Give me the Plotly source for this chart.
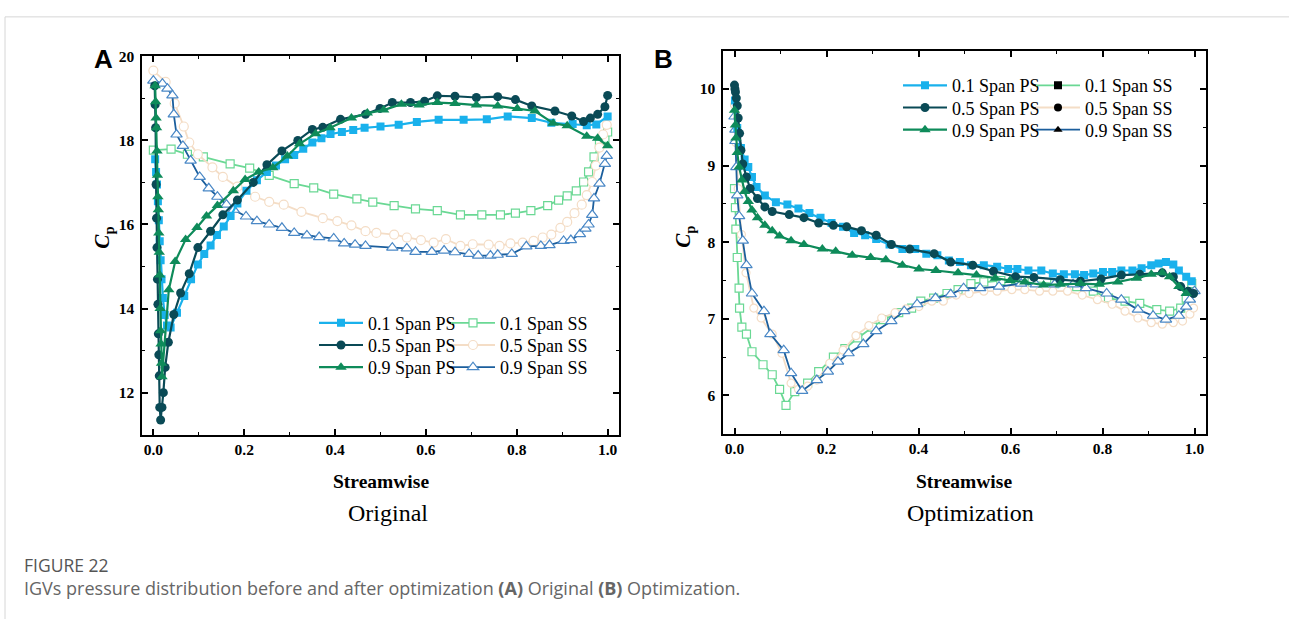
import plotly.graph_objects as go

W, H = 1289, 619

# ---------------- Panel A (Original) ----------------
a_ps01_x = [0.004,0.006,0.008,0.010,0.012,0.014,0.016,0.018,0.021,0.025,0.030,0.038,0.052,0.068,0.083,0.098,0.112,0.126,0.140,0.155,0.170,0.185,0.205,0.228,0.250,0.270,0.290,0.310,0.330,0.350,0.370,0.390,0.415,0.440,0.465,0.500,0.540,0.580,0.628,0.683,0.734,0.780,0.833,0.876,0.923,0.954,0.975,1.0]
a_ps01_y = [17.55,17.25,16.95,16.55,16.1,15.6,15.15,14.7,14.25,13.85,13.6,13.55,13.9,14.3,14.7,15.05,15.3,15.5,15.75,15.95,16.2,16.5,16.8,17.05,17.25,17.4,17.55,17.65,17.8,17.95,18.05,18.15,18.2,18.25,18.3,18.33,18.37,18.44,18.49,18.49,18.5,18.57,18.53,18.42,18.39,18.36,18.38,18.57]

a_ps05_x = [0.003,0.004,0.005,0.006,0.007,0.008,0.009,0.010,0.011,0.012,0.013,0.014,0.016,0.019,0.022,0.026,0.033,0.045,0.060,0.079,0.098,0.126,0.153,0.185,0.220,0.250,0.283,0.318,0.350,0.373,0.412,0.467,0.499,0.526,0.566,0.597,0.625,0.664,0.711,0.758,0.797,0.833,0.884,0.921,0.947,0.962,0.978,0.994,1.0]
a_ps05_y = [19.3,18.85,18.3,16.95,16.15,15.45,14.7,14.1,13.4,12.9,12.4,11.65,11.35,11.65,12.0,12.6,13.2,13.86,14.37,14.83,15.45,15.84,16.23,16.58,17.0,17.42,17.75,18.0,18.26,18.31,18.5,18.62,18.76,18.9,18.9,18.93,19.06,19.05,19.02,19.04,18.97,18.82,18.7,18.58,18.45,18.53,18.62,18.8,19.07]

a_ps09_x = [0.004,0.005,0.006,0.007,0.008,0.009,0.010,0.011,0.012,0.013,0.014,0.015,0.016,0.017,0.018,0.019,0.034,0.048,0.071,0.096,0.117,0.141,0.176,0.202,0.232,0.263,0.295,0.322,0.357,0.389,0.436,0.471,0.507,0.546,0.585,0.625,0.664,0.711,0.758,0.801,0.840,0.880,0.911,0.954,0.978,1.0]
a_ps09_y = [19.3,18.92,18.53,18.3,17.75,17.17,16.66,16.35,15.8,15.34,14.8,14.0,13.47,13.16,12.7,12.38,14.45,15.12,15.64,15.93,16.2,16.45,16.8,17.07,17.25,17.35,17.63,17.92,18.16,18.3,18.53,18.65,18.72,18.86,18.84,18.9,18.88,18.84,18.82,18.76,18.7,18.41,18.35,18.1,18.05,17.87]

a_ss01_x = [0.0,0.039,0.075,0.110,0.169,0.212,0.255,0.310,0.353,0.397,0.448,0.483,0.530,0.577,0.625,0.676,0.723,0.764,0.797,0.831,0.868,0.892,0.911,0.931,0.947,0.958,0.970,0.982,0.994,1.0]
a_ss01_y = [17.77,17.79,17.67,17.61,17.44,17.34,17.17,16.97,16.87,16.72,16.61,16.53,16.45,16.37,16.33,16.23,16.23,16.23,16.27,16.33,16.45,16.58,16.68,16.8,17.01,17.25,17.61,17.91,18.05,18.2]

a_ss05_x = [0.0,0.027,0.047,0.067,0.079,0.098,0.130,0.153,0.185,0.224,0.255,0.287,0.326,0.373,0.405,0.436,0.467,0.491,0.530,0.558,0.589,0.617,0.644,0.676,0.703,0.738,0.762,0.786,0.813,0.837,0.857,0.876,0.896,0.911,0.927,0.943,0.954,0.966,0.974,0.982,0.990,0.998]
a_ss05_y = [19.66,19.39,18.88,18.33,17.95,17.67,17.36,17.13,16.9,16.66,16.54,16.47,16.3,16.15,16.08,15.98,15.84,15.8,15.76,15.69,15.63,15.57,15.65,15.49,15.53,15.52,15.49,15.55,15.57,15.61,15.69,15.76,15.92,16.06,16.27,16.47,16.7,17.01,17.4,17.83,18.14,18.37]

a_ss09_x = [0.0,0.020,0.031,0.042,0.045,0.051,0.065,0.082,0.102,0.122,0.141,0.161,0.177,0.204,0.228,0.255,0.283,0.310,0.338,0.365,0.397,0.420,0.444,0.467,0.526,0.558,0.577,0.613,0.640,0.664,0.695,0.715,0.742,0.758,0.789,0.821,0.853,0.872,0.903,0.919,0.939,0.951,0.958,0.966,0.970,0.982,0.994,0.998]
a_ss09_y = [19.42,19.35,19.23,19.07,18.62,18.14,17.87,17.52,17.13,16.86,16.66,16.47,16.35,16.19,16.08,16.0,15.92,15.8,15.74,15.7,15.67,15.55,15.52,15.49,15.45,15.43,15.35,15.35,15.38,15.34,15.3,15.26,15.26,15.28,15.3,15.48,15.49,15.51,15.61,15.63,15.77,15.9,16.0,16.23,16.62,16.97,17.44,17.63]

# ---------------- Panel B (Optimization) ----------------
b_ps01_x = [0.001,0.006,0.014,0.022,0.030,0.038,0.048,0.066,0.090,0.115,0.139,0.163,0.187,0.211,0.236,0.260,0.284,0.308,0.337,0.365,0.393,0.417,0.441,0.466,0.490,0.514,0.542,0.571,0.595,0.615,0.639,0.667,0.692,0.716,0.740,0.760,0.780,0.801,0.821,0.841,0.865,0.885,0.906,0.922,0.938,0.954,0.966,0.982,0.994]
b_ps01_y = [9.85,9.49,9.23,9.08,8.98,8.85,8.72,8.61,8.52,8.49,8.44,8.38,8.32,8.25,8.2,8.12,8.09,8.04,7.97,7.91,7.91,7.85,7.83,7.76,7.74,7.7,7.7,7.68,7.65,7.65,7.63,7.63,7.59,7.58,7.58,7.57,7.59,7.61,7.61,7.63,7.63,7.66,7.7,7.72,7.74,7.71,7.63,7.55,7.49]

b_ps05_x = [0.0,0.001,0.002,0.004,0.006,0.008,0.011,0.014,0.018,0.026,0.034,0.050,0.066,0.082,0.119,0.151,0.183,0.215,0.244,0.276,0.308,0.341,0.381,0.434,0.470,0.518,0.563,0.611,0.651,0.708,0.752,0.797,0.841,0.881,0.930,0.954,0.970,0.986,0.998]
b_ps05_y = [10.05,10.0,9.96,9.88,9.78,9.62,9.42,9.2,9.02,8.85,8.7,8.57,8.46,8.4,8.36,8.32,8.25,8.22,8.2,8.15,8.09,7.97,7.91,7.85,7.74,7.7,7.62,7.55,7.54,7.51,7.49,7.52,7.57,7.58,7.6,7.55,7.42,7.36,7.33]

b_ps09_x = [0.0,0.002,0.003,0.006,0.010,0.016,0.022,0.030,0.038,0.050,0.066,0.082,0.098,0.123,0.151,0.191,0.220,0.256,0.296,0.329,0.365,0.401,0.438,0.486,0.526,0.567,0.599,0.631,0.672,0.708,0.752,0.793,0.833,0.874,0.906,0.930,0.946,0.966,0.982]
b_ps09_y = [9.72,9.53,9.36,9.17,8.98,8.81,8.66,8.53,8.42,8.32,8.22,8.15,8.08,8.02,7.97,7.91,7.88,7.83,7.8,7.77,7.7,7.65,7.63,7.6,7.57,7.53,7.5,7.48,7.44,7.45,7.46,7.45,7.48,7.53,7.58,7.6,7.55,7.42,7.33]

b_ss01_x = [0.0,0.002,0.003,0.006,0.010,0.011,0.016,0.026,0.038,0.062,0.082,0.098,0.112,0.131,0.159,0.183,0.215,0.240,0.268,0.300,0.324,0.357,0.385,0.405,0.433,0.462,0.486,0.514,0.542,0.579,0.611,0.647,0.696,0.744,0.780,0.813,0.849,0.881,0.918,0.946,0.970,0.982,0.994]
b_ss01_y = [8.7,8.45,8.17,7.8,7.4,7.14,6.89,6.8,6.57,6.4,6.27,6.08,5.87,6.05,6.16,6.31,6.5,6.61,6.75,6.89,6.99,7.08,7.14,7.23,7.27,7.33,7.38,7.46,7.48,7.5,7.51,7.48,7.46,7.42,7.36,7.27,7.23,7.2,7.12,7.1,7.14,7.27,7.46]

b_ss05_x = [0.0,0.003,0.008,0.015,0.025,0.042,0.058,0.082,0.103,0.123,0.139,0.159,0.179,0.207,0.236,0.264,0.292,0.320,0.349,0.373,0.401,0.429,0.454,0.482,0.510,0.542,0.571,0.603,0.631,0.663,0.692,0.724,0.756,0.789,0.821,0.849,0.877,0.906,0.930,0.954,0.974,0.990,0.998]
b_ss05_y = [9.79,9.3,8.7,8.1,7.6,7.14,7.01,6.8,6.55,6.16,6.08,6.12,6.2,6.42,6.59,6.78,6.91,7.01,7.08,7.13,7.16,7.23,7.23,7.31,7.33,7.36,7.36,7.38,7.38,7.36,7.36,7.36,7.31,7.25,7.19,7.1,7.01,6.95,6.93,6.95,6.97,7.06,7.14]

b_ss09_x = [0.0,0.002,0.002,0.004,0.006,0.010,0.018,0.026,0.038,0.064,0.078,0.107,0.123,0.147,0.179,0.203,0.225,0.248,0.280,0.308,0.341,0.369,0.397,0.437,0.470,0.498,0.534,0.575,0.623,0.655,0.696,0.736,0.764,0.809,0.841,0.877,0.910,0.938,0.966,0.982,0.990,1.0]
b_ss09_y = [9.64,9.47,9.32,8.98,8.61,8.34,8.02,7.7,7.33,7.1,6.8,6.59,6.29,6.06,6.2,6.31,6.44,6.55,6.67,6.84,6.97,7.1,7.19,7.27,7.32,7.4,7.4,7.42,7.46,7.45,7.45,7.45,7.4,7.33,7.25,7.12,7.04,6.99,7.04,7.16,7.25,7.36]

names = ["0.1 Span PS", "0.5 Span PS", "0.9 Span PS", "0.1 Span SS", "0.5 Span SS", "0.9 Span SS"]

C_PS01 = "#19B1EC"
C_PS05 = "#0A4A56"
C_PS09 = "#0E8B5A"
C_SS01 = "#6AD894"
C_SS05 = "#F4DDC6"
C_SS09 = "#1B5E9C"
C_SS09_M = "#4A88C6"

SERIF = "Liberation Serif, Times New Roman, serif"

fig = go.Figure()

def add(panel, x, y, name, color, symbol, size, lw, mcolor=None, open_=False, legend=None, show=True):
    xa, ya = ("x", "y") if panel == "A" else ("x2", "y2")
    mc = mcolor or color
    if open_:
        marker = dict(symbol=symbol, size=size, color="white", line=dict(color=mc, width=1.2))
    else:
        marker = dict(symbol=symbol, size=size, color=mc, line=dict(width=0))
    fig.add_trace(go.Scatter(x=x, y=y, mode="lines+markers", name=name,
                             line=dict(color=color, width=lw), marker=marker,
                             xaxis=xa, yaxis=ya, showlegend=show,
                             legend=legend or "legend"))

# Panel A
add("A", a_ss01_x, a_ss01_y, names[3], C_SS01, "square", 8, 1.8, open_=True, legend="legend4")
add("A", a_ss05_x, a_ss05_y, names[4], C_SS05, "circle", 9, 1.8, open_=True, legend="legend5")
add("A", a_ss09_x, a_ss09_y, names[5], C_SS09, "triangle-up", 10, 1.8, mcolor=C_SS09_M, open_=True, legend="legend6")
add("A", a_ps01_x, a_ps01_y, names[0], C_PS01, "square", 8, 2.2, legend="legend")
add("A", a_ps05_x, a_ps05_y, names[1], C_PS05, "circle", 9, 2.2, legend="legend2")
add("A", a_ps09_x, a_ps09_y, names[2], C_PS09, "triangle-up", 10, 2.2, legend="legend3")

# Panel B
add("B", b_ss01_x, b_ss01_y, names[3], C_SS01, "square", 8, 1.8, open_=True, show=False)
add("B", b_ss05_x, b_ss05_y, names[4], C_SS05, "circle", 8, 1.8, open_=True, show=False)
add("B", b_ss09_x, b_ss09_y, names[5], C_SS09, "triangle-up", 10, 1.8, mcolor=C_SS09_M, open_=True, show=False)
add("B", b_ps01_x, b_ps01_y, names[0], C_PS01, "square", 8, 2.2, legend="legend7")
add("B", b_ps05_x, b_ps05_y, names[1], C_PS05, "circle", 9, 2.2, legend="legend8")
add("B", b_ps09_x, b_ps09_y, names[2], C_PS09, "triangle-up", 10, 2.2, legend="legend9")

# Panel B legend entries for SS (shown with filled black markers as in the original figure)
for i, (nm, col, sym) in enumerate([(names[3], C_SS01, "square"), (names[4], C_SS05, "circle"), (names[5], C_SS09, "triangle-up")]):
    fig.add_trace(go.Scatter(x=[None], y=[None], mode="lines+markers", name=nm,
                             line=dict(color=col, width=1.8),
                             marker=dict(symbol=sym, size=8, color="black"),
                             xaxis="x2", yaxis="y2", legend="legend%d" % (10 + i)))

def px(x):
    return x / W

def py(y):
    return 1 - y / H

axis_common = dict(showline=True, linecolor="black", linewidth=1.5, mirror="ticks",
                   ticks="inside", ticklen=6, tickwidth=1.5, tickcolor="black",
                   showgrid=False, zeroline=False,
                   tickfont=dict(family=SERIF, size=15.5, color="black", weight="bold"))
minor_x = dict(ticks="inside", ticklen=3, tickwidth=1.2, tickcolor="black", dtick=0.1)

fig.update_layout(
    width=W, height=H, margin=dict(l=0, r=0, t=0, b=0),
    paper_bgcolor="white", plot_bgcolor="white",
    xaxis=dict(domain=[px(142), px(619)], range=[-0.025, 1.025], anchor="y",
               tick0=0, dtick=0.2, tickformat=".1f", minor=minor_x, **axis_common),
    yaxis=dict(domain=[py(432), py(48)], range=[11, 20], anchor="x",
               tick0=0, dtick=2, ticklabelstandoff=3,
               minor=dict(ticks="inside", ticklen=3, tickwidth=1.2, tickcolor="black", dtick=1),
               **axis_common),
    xaxis2=dict(domain=[px(723), px(1206)], range=[-0.025, 1.025], anchor="y2",
                tick0=0, dtick=0.2, tickformat=".1f", minor=minor_x, **axis_common),
    yaxis2=dict(domain=[py(431), py(43)], range=[5.5, 10.49], anchor="x2",
                tick0=0, dtick=1, ticklabelstandoff=3,
                minor=dict(ticks="inside", ticklen=3, tickwidth=1.2, tickcolor="black", dtick=0.5),
                **axis_common),
    showlegend=True,
)

# one legend per entry so that rows sit at the reference spacing
leg_common = dict(bgcolor="rgba(0,0,0,0)", borderwidth=0, itemwidth=44, tracegroupgap=0,
                  font=dict(family=SERIF, size=18, color="black"),
                  xanchor="left", yanchor="top", orientation="v")
OFF = 23
rowsA = [323, 345.5, 368]
rowsB = [82, 104.5, 127]
legs = {}
keys = ["legend"] + ["legend%d" % i for i in range(2, 13)]
k = 0
for colx, rows in [(314, rowsA), (446, rowsA), (898, rowsB), (1031, rowsB)]:
    for r in rows:
        legs[keys[k]] = dict(x=px(colx), y=py(r - OFF), **leg_common)
        k += 1
# order of keys: A PS (legend..legend3), A SS (legend4..6), B PS (7..9), B SS (10..12)
fig.update_layout(**legs)

ann = []
def text(x, y, t, size, family=SERIF, color="black", xanchor="center", angle=0):
    ann.append(dict(x=px(x), y=py(y), xref="paper", yref="paper", text=t, showarrow=False,
                    xanchor=xanchor, yanchor="middle", textangle=angle,
                    font=dict(family=family, size=size, color=color)))

SANS = "Liberation Sans, Arial, sans-serif"
text(92, 51, "<b>A</b>", 26, family=SANS, xanchor="left")
text(652, 51, "<b>B</b>", 26, family=SANS, xanchor="left")
text(103, 232, "<b><i>C</i></b><sub><b>p</b></sub>", 21, angle=-90)
text(684, 231, "<b><i>C</i></b><sub><b>p</b></sub>", 21, angle=-90)
text(381, 479, "<b>Streamwise</b>", 19.5)
text(964, 479, "<b>Streamwise</b>", 19.5)
text(388, 511, "Original", 24)
text(970, 511, "Optimization", 24)
CAP = "Open Sans, Noto Sans, sans-serif"
text(22, 564, "FIGURE 22", 17.5, family=CAP, color="#555555", xanchor="left")
text(22, 588, "IGVs pressure distribution before and after optimization <b>(A)</b> Original <b>(B)</b> Optimization.",
     18, family=CAP, color="#666666", xanchor="left")
fig.update_layout(annotations=ann)

fig.update_layout(shapes=[
    dict(type="line", xref="paper", yref="paper", x0=px(5), x1=1, y0=py(8), y1=py(8),
         line=dict(color="#d6d6d6", width=1)),
    dict(type="line", xref="paper", yref="paper", x0=px(5), x1=px(5), y0=py(8), y1=0,
         line=dict(color="#d6d6d6", width=1)),
])

fig.write_html("out.html")
